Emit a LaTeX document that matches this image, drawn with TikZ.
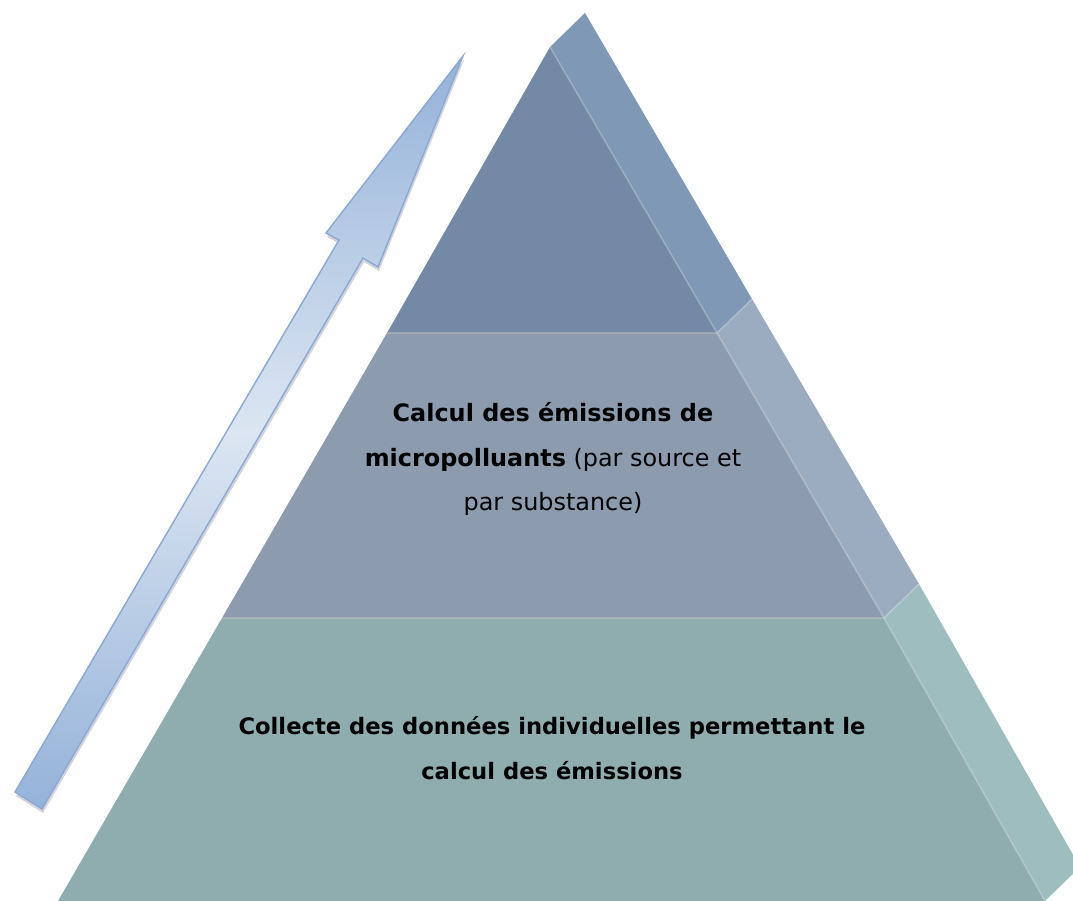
\documentclass[tikz,border=0pt]{standalone}
\usepackage{fontspec}
\setmainfont{DejaVu Sans}
\usepackage{tikz}
\usetikzlibrary{calc}
\usepackage{xcolor}

\definecolor{topfront}{HTML}{7389A5}
\definecolor{topside}{HTML}{7F98B5}
\definecolor{midfront}{HTML}{8D9BAE}
\definecolor{midside}{HTML}{9BABC0}
\definecolor{basefront}{HTML}{8FADAF}
\definecolor{baseside}{HTML}{9EBDBF}
\definecolor{arrowblue}{HTML}{94B2D9}
\definecolor{arrowlight}{HTML}{DCE6F2}
\definecolor{arrowedge}{HTML}{8AA8D3}

\begin{document}
\begin{tikzpicture}[x=0.02cm, y=-0.02cm,
    seam/.style={line width=0.6pt, black!25, opacity=0.5},
    ridge/.style={line width=1pt, white, opacity=0.2},
    tiertext/.style={align=center}]
    \useasboundingbox (0,0) rectangle (1073,901);
    \clip (0,0) rectangle (1073,901);

    % Pyramid corners
    \coordinate (apex) at (550,47);
    \coordinate (l1) at (387,333);
    \coordinate (r1) at (717,333);
    \coordinate (l2) at (222,618);
    \coordinate (r2) at (884,618);
    \coordinate (l3) at (58,901);
    \coordinate (r3) at (1045,901);
    \coordinate (depth) at (35,-34);

    % Side faces
    \fill[topside] (apex) -- ($(apex)+(depth)$) -- ($(r1)+(depth)$) -- (r1) -- cycle;
    \fill[midside] (r1) -- ($(r1)+(depth)$) -- ($(r2)+(depth)$) -- (r2) -- cycle;
    \fill[baseside] (r2) -- ($(r2)+(depth)$) -- ($(r3)+(depth)$) -- (r3) -- cycle;
    \draw[ridge] (r1) -- ($(r1)+(depth)$);
    \draw[ridge] (r2) -- ($(r2)+(depth)$);

    % Front tiers
    \fill[topfront] (apex) -- (l1) -- (r1) -- cycle;
    \fill[midfront] (l1) -- (l2) -- (r2) -- (r1) -- cycle;
    \fill[basefront] (l2) -- (l3) -- (r3) -- (r2) -- cycle;
    \draw[seam] (l1) -- (r1);
    \draw[seam] (l2) -- (r2);
    \draw[ridge] (apex) -- (r1) -- (r2) -- (r3);

    % Rising arrow
    \fill[blue!20!black!50, opacity=0.35, shift={(1,4)}]
        (15,792) -- (339,240) -- (326,233) -- (463,56)
        -- (378,267) -- (363,258) -- (42,809) -- cycle;
    \draw[arrowedge, line width=0.8pt, line join=miter,
          top color=arrowblue, bottom color=arrowblue, middle color=arrowlight]
        (15,792) -- (339,240) -- (326,233) -- (463,56)
        -- (378,267) -- (363,258) -- (42,809) -- cycle;

    % Labels
    \node[tiertext, font=\fontsize{13.6}{25.5}\selectfont] (calcul) at (553,459)
        {\textbf{Calcul des émissions de}\\
         \textbf{micropolluants} (par source et\\
         par substance)};
    \node[tiertext, font=\fontsize{12.9}{25.5}\selectfont] (collecte) at (552,748)
        {\textbf{Collecte des données individuelles permettant le}\\
         \textbf{calcul des émissions}};
\end{tikzpicture}
\end{document}
